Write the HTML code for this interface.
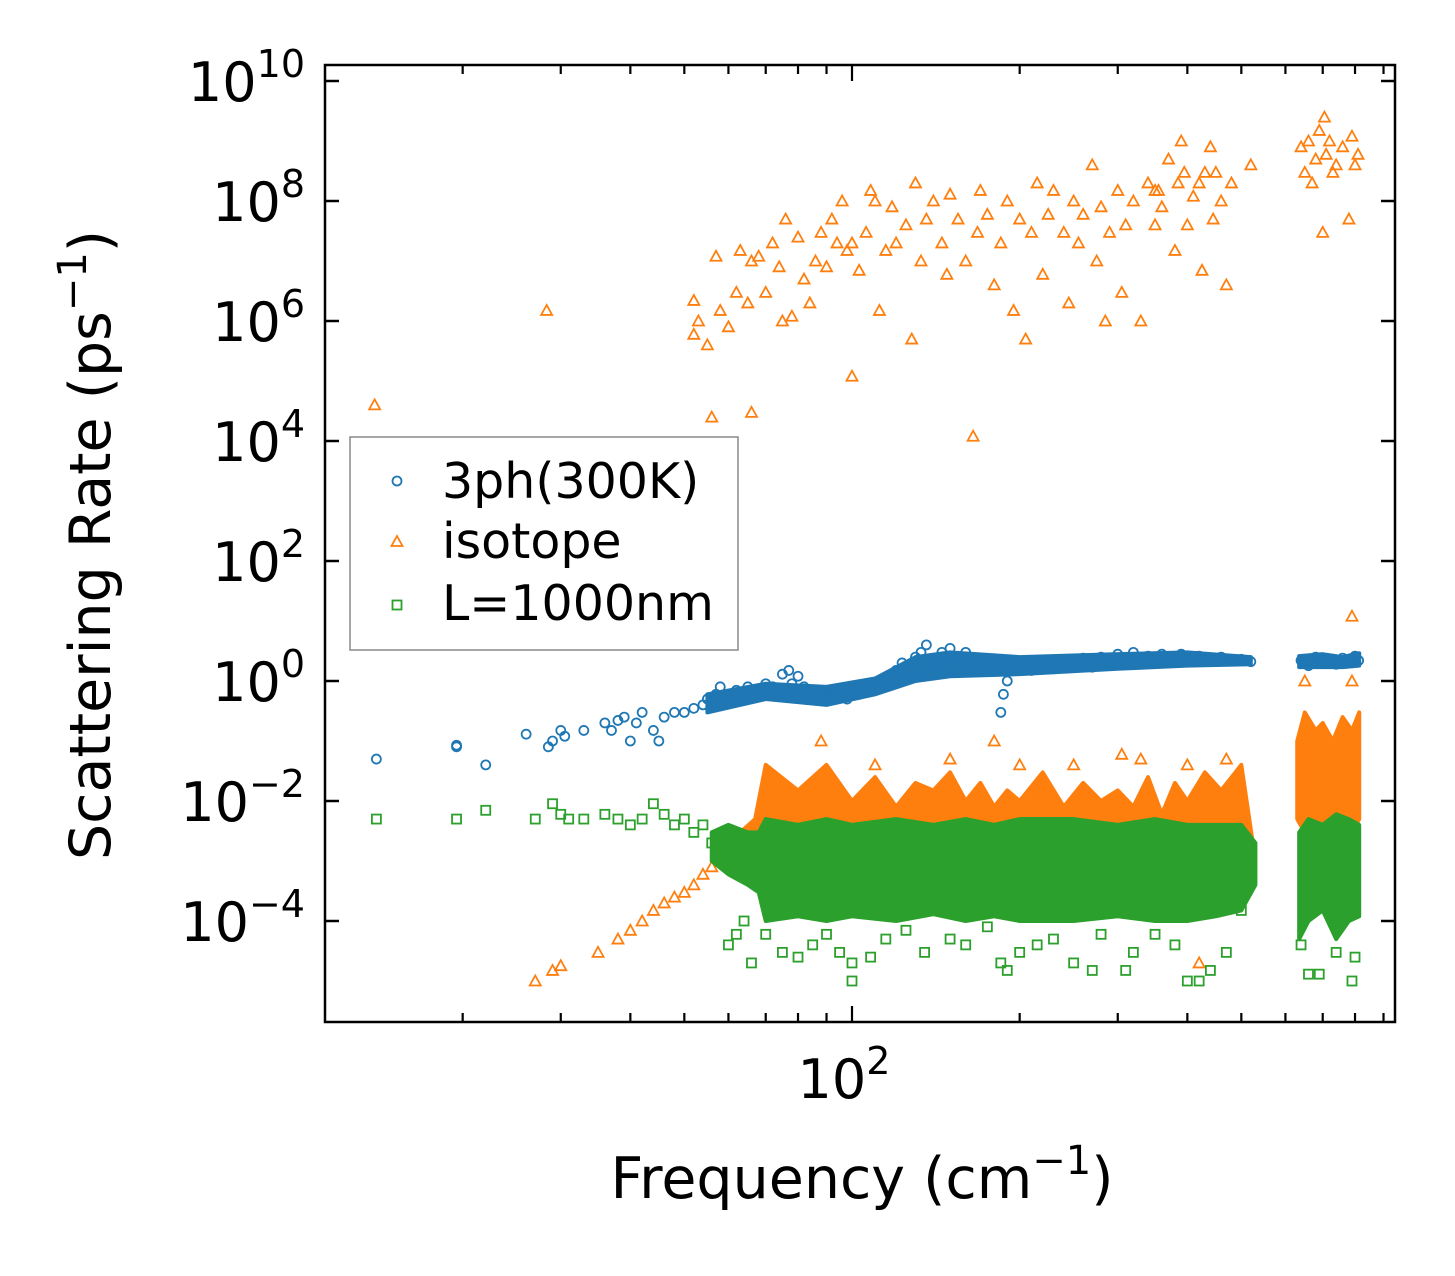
<!DOCTYPE html>
<html><head><meta charset="utf-8"><style>
body{margin:0;background:#fff}
svg text{font-family:"DejaVu Sans","Liberation Sans",sans-serif;fill:#000}
</style></head><body>
<svg id="chart" width="1455" height="1271" viewBox="0 0 1455 1271" xmlns="http://www.w3.org/2000/svg">
<rect width="1455" height="1271" fill="#fff"/>
<g id="bands"></g><g id="marks"></g>
<rect x="325" y="65" width="1070" height="957" fill="none" stroke="#000" stroke-width="2.5"/>
<g id="axes"></g>
<text x="862" y="1198" font-size="57" text-anchor="middle">Frequency (cm<tspan font-size="40" dy="-24">−1</tspan><tspan dy="24">)</tspan></text>
<text transform="translate(110,545) rotate(-90)" font-size="57" text-anchor="middle">Scattering Rate (ps<tspan font-size="40" dy="-24">−1</tspan><tspan dy="24">)</tspan></text>
<g>
<rect x="350" y="437" width="388" height="213" fill="#fff" stroke="#888" stroke-width="1.5"/>
<circle cx="397" cy="481" r="4.5" fill="none" stroke="#1f77b4" stroke-width="1.8"/>
<text x="442" y="498" font-size="49">3ph(300K)</text>
<polygon points="397,536 402.5,546 391.5,546" fill="none" stroke="#ff7f0e" stroke-width="1.8"/>
<text x="442" y="558" font-size="49">isotope</text>
<rect x="392.5" y="600.5" width="9" height="9" fill="none" stroke="#2ca02c" stroke-width="1.8"/>
<text x="442" y="620" font-size="49">L=1000nm</text>
</g>
</svg>
<script>
const isoHigh=[[13.9,4e4],[28.3,1.5e6],[52,2.2e6],[52,6e5],[53,1e6],[55,4e5],[56,2.5e4],[57,1.2e7],[58,1.5e6],[60,8e5],[62,3e6],[63,1.5e7],[65,2e6],[66,3e4],[66,1e7],[68,1.2e7],[70,3e6],[72,2e7],[74,8e6],[75,1e6],[76,5e7],[78,1.2e6],[80,2.5e7],[82,5e6],[84,2e6],[86,1e7],[88,3e7],[90,8e6],[92,5e7],[94,2e7],[96,1e8],[98,1.5e7],[100,1.2e5],[100,2e7],[103,7e6],[106,3e7],[108,1.5e8],[110,1e8],[112,1.5e6],[115,1.5e7],[118,8e7],[120,2e7],[125,4e7],[128,5e5],[130,2e8],[133,1e7],[136,5e7],[140,1e8],[145,2e7],[148,6e6],[150,1.3e8],[155,5e7],[160,1e7],[165,1.2e4],[168,3e7],[170,1.5e8],[175,6e7],[180,4e6],[185,2e7],[190,1e8],[195,1.5e6],[200,5e7],[205,5e5],[210,3e7],[215,2e8],[220,6e6],[225,6e7],[230,1.5e8],[240,3e7],[245,2e6],[250,1e8],[255,2e7],[260,6e7],[270,4e8],[275,1e7],[280,8e7],[285,1e6],[290,3e7],[300,1.5e8],[305,3e6],[310,4e7],[320,1e8],[330,1e6],[340,2e8],[350,4e7],[355,1.5e8],[360,8e7],[370,5e8],[380,1.5e7],[385,2e8],[390,1e9],[400,4e7],[410,1.2e8],[420,2e8],[425,7e6],[430,3e8],[440,8e8],[445,5e7],[450,3e8],[460,1e8],[470,4e6],[480,2e8],[520,4e8],[640,8e8],[650,3e8],[660,1e9],[670,2e8],[680,5e8],[690,1.5e9],[700,3e7],[705,2.5e9],[710,6e8],[720,1e9],[730,3e8],[740,4e8],[760,8e8],[780,5e7],[790,1.2e9],[800,4e8],[810,6e8],[350,1.5e8],[395,3e8]];
const isoLow=[[27,1e-5],[29,1.5e-5],[30,1.8e-5],[35,3e-5],[38,5e-5],[40,7e-5],[42,1e-4],[44,1.5e-4],[46,2e-4],[48,2.5e-4],[50,3e-4],[52,4e-4],[54,6e-4],[56,8e-4],[58,1e-3],[60,1.2e-3],[62,1.5e-3],[65,2e-3],[88,0.1],[180,0.1],[305,0.06],[420,2e-5],[790,12],[790,1],[650,1],[110,0.04],[150,0.05],[200,0.04],[250,0.04],[330,0.05],[400,0.04],[470,0.05]];
const threePh=[[14,0.05],[19.5,0.08],[19.5,0.085],[22,0.04],[26,0.13],[28.5,0.08],[29,0.1],[30,0.15],[30.5,0.12],[33,0.15],[36,0.2],[37,0.15],[38,0.22],[39,0.25],[40,0.1],[41,0.2],[42,0.3],[44,0.15],[45,0.1],[46,0.25],[48,0.3],[50,0.3],[52,0.35],[54,0.4],[55,0.5],[57,0.6],[58,0.8],[60,0.6],[62,0.7],[65,0.8],[68,0.7],[70,0.9],[72,0.8],[75,1.3],[77,1.5],[78,0.9],[80,1.2],[82,0.8],[85,0.7],[88,0.6],[90,0.5],[93,0.7],[95,0.6],[98,0.5],[100,0.8],[103,0.6],[106,0.7],[110,0.9],[113,1.0],[116,1.2],[120,1.5],[123,2],[126,1.5],[130,2.5],[133,3],[136,4],[140,2],[145,3],[150,3.5],[155,2.5],[160,3],[165,2],[170,1.5],[175,1.8],[180,1.5],[185,0.3],[187,0.6],[190,1],[195,1.5],[200,1.8],[210,1.5],[220,2],[230,1.6],[240,2.2],[250,1.8],[260,2.4],[270,1.7],[280,2.5],[290,2.2],[300,2.8],[310,2],[320,3],[330,2.3],[340,2.6],[350,2.2],[360,2.8],[370,2.4],[380,2.5],[390,2.8],[400,2.3],[420,2.6],[440,2.4],[460,2.5],[480,2.2],[500,2.3],[520,2.1],[640,2.2],[660,1.8],[680,2.5],[700,2],[720,2.3],[740,1.9],[760,2.4],[780,2],[800,2.6],[812,2.2]];
const boundary=[[14,5e-3],[19.5,5e-3],[22,7e-3],[27,5e-3],[29,9e-3],[30,6e-3],[31,5e-3],[33,5e-3],[36,6e-3],[38,5e-3],[40,4e-3],[42,5e-3],[44,9e-3],[46,6e-3],[48,4e-3],[50,5e-3],[52,3e-3],[54,4e-3],[56,2e-3],[58,1.5e-3],[60,4e-5],[62,6e-5],[64,1e-4],[66,2e-5],[70,6e-5],[75,3e-5],[80,2.5e-5],[85,4e-5],[90,6e-5],[95,3e-5],[100,1e-5],[100,2e-5],[108,2.5e-5],[115,5e-5],[125,7e-5],[135,3e-5],[150,5e-5],[160,4e-5],[175,8e-5],[185,2e-5],[190,1.5e-5],[200,3e-5],[215,4e-5],[230,5e-5],[250,2e-5],[270,1.5e-5],[280,6e-5],[310,1.5e-5],[320,3e-5],[350,6e-5],[380,4e-5],[400,1e-5],[420,1e-5],[440,1.5e-5],[470,3e-5],[500,1.5e-4],[640,4e-5],[660,1.3e-5],[690,1.3e-5],[740,3e-5],[790,1e-5],[800,2.5e-5]];
const bluBandF=[55,70,90,110,130,150,200,300,400,520];
const bluBandLo=[0.3,0.5,0.4,0.6,1,1.2,1.3,1.6,1.8,1.9];
const bluBandHi=[0.6,0.9,0.8,1.1,2.5,3,2.5,2.8,3,2.5];
const bluBand2F=[635,700,760,814];
const bluBand2Lo=[1.7,1.7,1.7,1.8];
const bluBand2Hi=[2.6,2.8,2.5,2.9];
const isoBandF=[60,67,70,80,90,100,110,120,130,140,150,160,170,180,190,200,220,240,260,280,300,320,340,360,380,400,430,460,500,530];
const isoBandHi=[2e-3,5e-3,4e-2,1.5e-2,4e-2,1e-2,2.5e-2,8e-3,2e-2,1.5e-2,3e-2,1e-2,2e-2,8e-3,1.5e-2,1e-2,3e-2,8e-3,2e-2,1e-2,1.5e-2,8e-3,2.5e-2,6e-3,2e-2,1e-2,3e-2,1.5e-2,4e-2,1e-3];
const isoBandLo=[1e-3,1e-3,1e-3,1e-3,1e-3,1e-3,1e-3,1e-3,1e-3,1e-3,1e-3,1e-3,1e-3,1e-3,1e-3,1e-3,1e-3,1e-3,1e-3,1e-3,1e-3,1e-3,1e-3,1e-3,1e-3,1e-3,1e-3,1e-3,1e-3,1e-3];
const isoBand2F=[630,650,680,700,730,760,790,814];
const isoBand2Hi=[0.1,0.3,0.15,0.2,0.1,0.25,0.15,0.3];
const isoBand2Lo=[5e-3,3e-3,5e-3,4e-3,5e-3,4e-3,3e-3,5e-3];
const grnBandF=[56,60,65,68,70,80,90,100,120,140,160,180,200,250,300,350,400,450,500,530];
const grnBandLo=[1e-3,6e-4,4e-4,3e-4,1e-4,1.2e-4,1e-4,1.2e-4,1e-4,1.3e-4,1e-4,1.2e-4,1e-4,1e-4,1.2e-4,1e-4,1e-4,1.2e-4,1.5e-4,4e-4];
const grnBandHi=[3e-3,4e-3,3e-3,3e-3,5e-3,4e-3,5e-3,4e-3,5e-3,4e-3,5e-3,4e-3,5e-3,5e-3,4e-3,5e-3,4e-3,4e-3,4e-3,2e-3];
const grnBand2F=[635,660,700,740,780,814];
const grnBand2Lo=[5e-5,1e-4,1.5e-4,5e-5,1e-4,1.2e-4];
const grnBand2Hi=[3e-3,5e-3,4e-3,6e-3,5e-3,4e-3];
const yTickExp=[-4,-2,0,2,4,6,8,10];
const xMinor=[20,30,40,50,60,70,80,90,200,300,400,500,600,700,800,900];

const NS="http://www.w3.org/2000/svg";
function X(f){return 852+557*(Math.log10(f)-2);}
function Y(v){return 681-60*Math.log10(v);}
function mk(tag,attrs,parent){const e=document.createElementNS(NS,tag);for(const k in attrs)e.setAttribute(k,attrs[k]);parent.appendChild(e);return e;}
const marks=document.getElementById('marks'),axes=document.getElementById('axes');
function band(F,Lo,Hi,color,name){
  const pts=F.map((f,i)=>X(f)+','+Y(Hi[i])).concat(F.map((f,i)=>X(f)+','+Y(Lo[i])).reverse());
  const p=mk('polygon',{points:pts.join(' '),fill:color,stroke:color,'stroke-width':4,'stroke-linejoin':'round'},marks);
  
  
}
function circ(d){d.forEach(([f,v])=>{const c=mk('circle',{cx:X(f),cy:Y(v),r:4.5,fill:'none',stroke:'#1f77b4','stroke-width':1.8},marks);
  
  });}
function tri(d){d.forEach(([f,v])=>{const x=X(f),y=Y(v);const t=mk('polygon',{points:`${x},${y-5.5} ${x+5.5},${y+4.5} ${x-5.5},${y+4.5}`,fill:'none',stroke:'#ff7f0e','stroke-width':1.8},marks);
  
  });}
function sq(d){d.forEach(([f,v])=>{const s=mk('rect',{x:X(f)-4.5,y:Y(v)-4.5,width:9,height:9,fill:'none',stroke:'#2ca02c','stroke-width':1.8},marks);
  
  });}
band(bluBandF,bluBandLo,bluBandHi,'#1f77b4','band-3ph');
band(bluBand2F,bluBand2Lo,bluBand2Hi,'#1f77b4','band-3ph-high');
circ(threePh);
band(isoBandF,isoBandLo,isoBandHi,'#ff7f0e','band-isotope');
band(isoBand2F,isoBand2Lo,isoBand2Hi,'#ff7f0e','band-isotope-high');
tri(isoHigh);tri(isoLow);
band(grnBandF,grnBandLo,grnBandHi,'#2ca02c','band-boundary');
band(grnBand2F,grnBand2Lo,grnBand2Hi,'#2ca02c','band-boundary-high');
sq(boundary);
yTickExp.forEach(e=>{const y=Y(Math.pow(10,e));
  const l1=mk('line',{x1:325,x2:339,y1:y,y2:y,stroke:'#000','stroke-width':2.5},axes);
  
  
  const l2=mk('line',{x1:1381,x2:1395,y1:y,y2:y,stroke:'#000','stroke-width':2.5},axes);
  
  
  const t=mk('text',{x:305,y:y+20,'font-size':54,'text-anchor':'end'},axes);
  
  
  t.innerHTML='10<tspan font-size="38" dy="-24">'+(e<0?'−'+(-e):e)+'</tspan>';
});
function xt(f,len,name){const x=X(f);
  const a=mk('line',{x1:x,x2:x,y1:1022,y2:1022-len,stroke:'#000','stroke-width':2.2},axes);
  
  
  const b=mk('line',{x1:x,x2:x,y1:65,y2:65+len,stroke:'#000','stroke-width':2.2},axes);
  
  }
xMinor.forEach(f=>xt(f,9,'x-minor-tick'));
xt(100,16,'x-major-tick');
const xl=mk('text',{x:X(100)-8,y:1098,'font-size':54,'text-anchor':'middle'},axes);


xl.innerHTML='10<tspan font-size="38" dy="-24">2</tspan>';
</script>
</body></html>
